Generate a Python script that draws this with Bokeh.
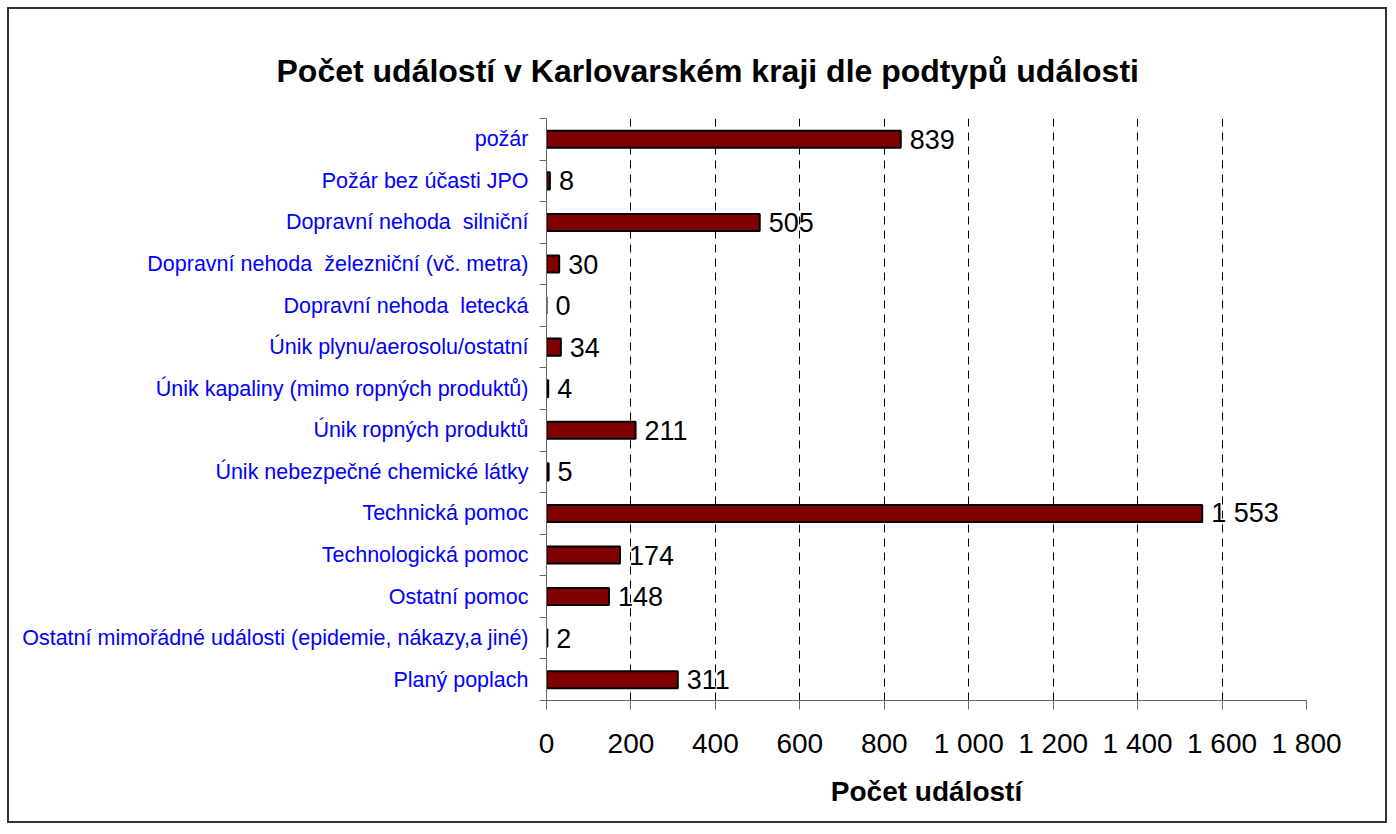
from bokeh.plotting import figure
from bokeh.models import FixedTicker, ColumnDataSource, LabelSet, Title
from bokeh.core.properties import value
from bokeh.embed import file_html
from bokeh.resources import INLINE

categories = [
    "požár",
    "Požár bez účasti JPO",
    "Dopravní nehoda\u00a0 silniční",
    "Dopravní nehoda\u00a0 železniční (vč. metra)",
    "Dopravní nehoda\u00a0 letecká",
    "Únik plynu/aerosolu/ostatní",
    "Únik kapaliny (mimo ropných produktů)",
    "Únik ropných produktů",
    "Únik nebezpečné chemické látky",
    "Technická pomoc",
    "Technologická pomoc",
    "Ostatní pomoc",
    "Ostatní mimořádné události (epidemie, nákazy,a jiné)",
    "Planý poplach",
]
values = [839, 8, 505, 30, 0, 34, 4, 211, 5, 1553, 174, 148, 2, 311]
x_ticks = [0, 200, 400, 600, 800, 1000, 1200, 1400, 1600, 1800]
x_tick_labels = ["0", "200", "400", "600", "800", "1 000", "1 200", "1 400", "1 600", "1 800"]
title_text = "Počet událostí v Karlovarském kraji dle podtypů události"
x_title = "Počet událostí"

n = len(categories)
y_pos = [n - 0.5 - i for i in range(n)]
value_labels = [f"{v:,}".replace(",", " ") for v in values]

src = ColumnDataSource(dict(y=y_pos, value=values, label=value_labels, cat=categories))

FONT = "Liberation Sans"
W, H = 1376, 812

p = figure(width=W, height=H, output_backend="svg", toolbar_location=None,
           x_range=(0, 1800), y_range=(0, n),
           min_border_left=537, min_border_right=83, min_border_top=109, min_border_bottom=125)
p.styles = {"border": "2px solid #333333", "margin": "7px", "box-sizing": "content-box"}
p.outline_line_color = None
p.background_fill_color = "white"
p.border_fill_color = "white"

p.hbar(y="y", left=0, right="value", height=0.41, source=src,
       fill_color="#800000", line_color="black", line_width=2)

labels = LabelSet(x="value", y="y", text="label", source=src, x_offset=9,
                  text_baseline="middle", text_align="left",
                  text_font=value(FONT), text_font_size="27px", text_color="black")
p.add_layout(labels)

# x axis
p.xaxis.ticker = FixedTicker(ticks=x_ticks, minor_ticks=[])
p.xaxis.major_label_overrides = {t: l for t, l in zip(x_ticks, x_tick_labels)}
p.xaxis.major_label_text_font = FONT
p.xaxis.major_label_text_font_size = "28px"
p.xaxis.major_label_text_color = "black"
p.xaxis.major_tick_out = 9
p.xaxis.major_tick_in = 0
p.xaxis.major_label_standoff = 18
p.xaxis.axis_line_color = "#666666"
p.xaxis.major_tick_line_color = "#666666"
p.xaxis.axis_label = x_title
p.xaxis.axis_label_text_font = FONT
p.xaxis.axis_label_text_font_size = "28px"
p.xaxis.axis_label_text_font_style = "bold"
p.xaxis.axis_label_text_color = "black"
p.xaxis.axis_label_standoff = 14

# y axis
p.yaxis.ticker = FixedTicker(ticks=y_pos, minor_ticks=list(range(n + 1)))
p.yaxis.major_label_overrides = {y: c for y, c in zip(y_pos, categories)}
p.yaxis.major_label_text_font = FONT
p.yaxis.major_label_text_font_size = "21.5px"
p.yaxis.major_label_text_color = "#0000FF"
p.yaxis.major_tick_out = 0
p.yaxis.major_tick_in = 0
p.yaxis.minor_tick_out = 7
p.yaxis.minor_tick_in = 0
p.yaxis.minor_tick_line_color = "#666666"
p.yaxis.axis_line_color = "#666666"
p.yaxis.major_label_standoff = 11

# grid
p.xgrid.ticker = FixedTicker(ticks=x_ticks[1:-1], minor_ticks=[])
p.xgrid.grid_line_color = "black"
p.xgrid.grid_line_dash = "8 6"
p.xgrid.grid_line_width = 1
p.ygrid.grid_line_color = None

# title
p.add_layout(Title(text=title_text, align="left", offset=-270, standoff=60,
                   text_font=FONT, text_font_size="32px", text_font_style="bold",
                   text_color="black"), "above")

open("out.html", "w").write(file_html(p, INLINE))
